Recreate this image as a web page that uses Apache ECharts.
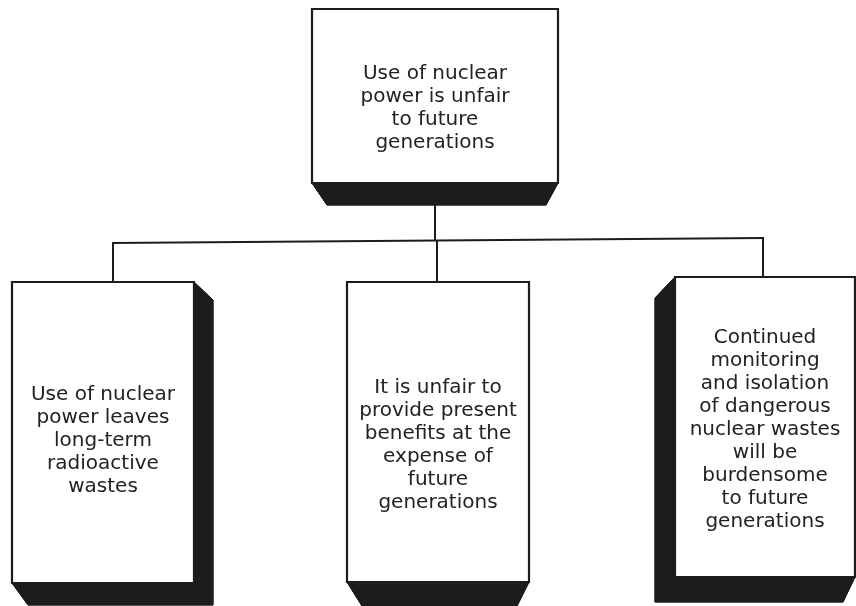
<!DOCTYPE html>
<html>
<head>
<meta charset="utf-8">
<script src="https://cdn.jsdelivr.net/npm/echarts@6/dist/echarts.min.js"></script>
<style>
html,body{margin:0;padding:0;background:#fff;}
#chart{width:856px;height:606px;}
</style>
</head>
<body>
<div id="chart"></div>
<script>
// ---- Data: tree nodes ----
const nodeTexts = [
  "Use of nuclear\npower is unfair\nto future\ngenerations",
  "Use of nuclear\npower leaves\nlong-term\nradioactive\nwastes",
  "It is unfair to\nprovide present\nbenefits at the\nexpense of\nfuture\ngenerations",
  "Continued\nmonitoring\nand isolation\nof dangerous\nnuclear wastes\nwill be\nburdensome\nto future\ngenerations"
];
const nodeParents = [-1, 0, 0, 0];

// ---- Layout (diagram geometry, in axis units) ----
const boxLayout = [
  { x1: 312, y1: 9,   x2: 558, y2: 183, back: [15, 21, -12, 22], port: 435, textDy: 12 },
  { x1: 12,  y1: 282, x2: 194, y2: 583, back: [16, 18, 19, 22],  port: 113, textDy: 8 },
  { x1: 347, y1: 282, x2: 529, y2: 582, back: [15, 20, -12, 24], port: 437, textDy: 13 },
  { x1: 675, y1: 277, x2: 855, y2: 577, back: [-20, 21, -12, 25], port: 763, textDy: 3 }
];
const busLeft = { x: 112, y: 243 };
const busRight = { x: 764, y: 238 };
const INK = '#1c1c1c';

function busAt(x) {
  return busLeft.y + (busRight.y - busLeft.y) * (x - busLeft.x) / (busRight.x - busLeft.x);
}

function renderItem(params, api) {
  const i = api.value(0);
  const L = boxLayout[i];
  const c = (x, y) => api.coord([x, y]);
  const children = [];
  const f = { tl: c(L.x1, L.y1), tr: c(L.x2, L.y1), br: c(L.x2, L.y2), bl: c(L.x1, L.y2) };
  const bx1 = L.x1 + L.back[0], by1 = L.y1 + L.back[1], bx2 = L.x2 + L.back[2], by2 = L.y2 + L.back[3];
  const b = { tl: c(bx1, by1), tr: c(bx2, by1), br: c(bx2, by2), bl: c(bx1, by2) };
  const quads = [
    [b.tl, b.tr, b.br, b.bl],
    [f.tl, f.tr, b.tr, b.tl],
    [f.tr, f.br, b.br, b.tr],
    [f.br, f.bl, b.bl, b.br],
    [f.bl, f.tl, b.tl, b.bl]
  ];
  quads.forEach(q => children.push({
    type: 'polygon', shape: { points: q },
    style: { fill: INK, stroke: INK, lineWidth: 1 }
  }));
  children.push({
    type: 'rect',
    shape: { x: f.tl[0], y: f.tl[1], width: f.tr[0] - f.tl[0], height: f.bl[1] - f.tl[1] },
    style: { fill: '#fff', stroke: INK, lineWidth: 2.2 }
  });
  const ctr = c((L.x1 + L.x2) / 2, (L.y1 + L.y2) / 2 + L.textDy);
  children.push({
    type: 'text',
    style: {
      text: nodeTexts[i], x: ctr[0], y: ctr[1],
      align: 'center', verticalAlign: 'middle',
      fontFamily: 'DejaVu Sans', fontSize: 20, lineHeight: 23,
      fill: '#222'
    }
  });
  const lineStyle = { stroke: INK, lineWidth: 2, fill: null };
  if (nodeParents[i] < 0) {
    const kids = nodeParents.map((p, k) => p === i ? k : -1).filter(k => k >= 0);
    const p0 = c(L.port, by2), p1 = c(L.port, busAt(L.port));
    children.push({ type: 'line', shape: { x1: p0[0], y1: p0[1], x2: p1[0], y2: p1[1] }, style: lineStyle });
    const xs = kids.map(k => boxLayout[k].port);
    const xa = Math.min.apply(null, xs), xz = Math.max.apply(null, xs);
    const a = c(xa - 1, busAt(xa - 1)), z = c(xz + 1, busAt(xz + 1));
    children.push({ type: 'line', shape: { x1: a[0], y1: a[1], x2: z[0], y2: z[1] }, style: lineStyle });
  } else {
    const p0 = c(L.port, busAt(L.port)), p1 = c(L.port, L.y1);
    children.push({ type: 'line', shape: { x1: p0[0], y1: p0[1], x2: p1[0], y2: p1[1] }, style: lineStyle });
  }
  return { type: 'group', children: children };
}

const chart = echarts.init(document.getElementById('chart'), null, { renderer: 'canvas' });
chart.setOption({
  animation: false,
  backgroundColor: '#fff',
  grid: { left: 0, right: 0, top: 0, bottom: 0 },
  xAxis: { type: 'value', min: 0, max: 856, show: false },
  yAxis: { type: 'value', min: 0, max: 606, inverse: true, show: false },
  series: [{
    type: 'custom',
    renderItem: renderItem,
    data: nodeTexts.map((t, i) => [i]),
    clip: false
  }]
});
</script>
</body>
</html>
